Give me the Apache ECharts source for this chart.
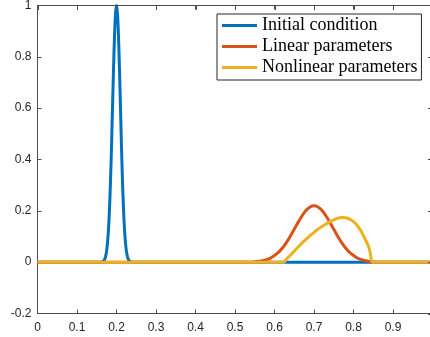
<!DOCTYPE html>
<html><head><meta charset="utf-8">
<script src="https://cdn.jsdelivr.net/npm/echarts@6/dist/echarts.min.js"></script>
<style>html,body{margin:0;padding:0;background:#fff}#c{width:430px;height:337px}</style>
</head><body><div id="c"></div>
<script>
const seriesNames = ['Initial condition', 'Linear parameters', 'Nonlinear parameters'];
const xTicks = [0, 0.1, 0.2, 0.3, 0.4, 0.5, 0.6, 0.7, 0.8, 0.9, 1];
const yTicks = [-0.2, 0, 0.2, 0.4, 0.6, 0.8, 1];

const initialX = [0, 0.16, 0.165, 0.1675, 0.17, 0.1725, 0.175, 0.1775, 0.18, 0.1825, 0.185, 0.1875, 0.19, 0.1925, 0.195, 0.1975, 0.2,
  0.2025, 0.205, 0.2075, 0.21, 0.2125, 0.215, 0.2175, 0.22, 0.2225, 0.225, 0.2275, 0.23, 0.2325, 0.235, 0.24, 1];
const initialY = [0, 0, 0.0022, 0.0051, 0.011, 0.0228, 0.044, 0.0796, 0.135, 0.216, 0.325, 0.458, 0.607, 0.755, 0.882, 0.969, 1,
  0.969, 0.882, 0.755, 0.607, 0.458, 0.325, 0.216, 0.135, 0.0796, 0.044, 0.0228, 0.011, 0.0051, 0.0022, 0, 0];

const linearX = [0, 0.54, 0.55, 0.56, 0.57, 0.58, 0.59, 0.60, 0.61, 0.62, 0.63, 0.64, 0.65, 0.66, 0.67, 0.68, 0.69, 0.70,
  0.71, 0.72, 0.73, 0.74, 0.75, 0.76, 0.77, 0.78, 0.79, 0.80, 0.81, 0.82, 0.83, 0.84, 0.85, 0.86, 1];
const linearY = [0, 0, 0.0015, 0.003, 0.0056, 0.0097, 0.016, 0.026, 0.038, 0.055, 0.076, 0.101, 0.128, 0.156, 0.181, 0.202, 0.215, 0.22,
  0.215, 0.202, 0.181, 0.156, 0.128, 0.101, 0.076, 0.055, 0.038, 0.026, 0.016, 0.0097, 0.0056, 0.003, 0.0015, 0, 0];

const nonlinearX = [0, 0.6235, 0.63, 0.64, 0.65, 0.66, 0.67, 0.68, 0.69, 0.70, 0.71, 0.72, 0.73, 0.74, 0.75, 0.76, 0.77,
  0.78, 0.79, 0.80, 0.81, 0.82, 0.83, 0.838, 0.843, 0.848, 1];
const nonlinearY = [0, 0, 0.011, 0.027, 0.043, 0.059, 0.075, 0.089, 0.103, 0.116, 0.128, 0.139, 0.148, 0.157, 0.165, 0.171, 0.174,
  0.173, 0.168, 0.158, 0.142, 0.119, 0.088, 0.062, 0.032, 0, 0];

const colors = ['#0072BD', '#D95319', '#EDB120'];
const zip = (xs, ys) => xs.map((x, i) => [x, ys[i]]);

const axisCol = '#262626';
const lineCol = '#4d4d4d';
const tickFont = { color: axisCol, fontSize: 12, fontFamily: 'Liberation Sans, Arial, sans-serif' };

const chart = echarts.init(document.getElementById('c'), null, { renderer: 'canvas' });
const baseX = () => ({
  type: 'value', min: 0, max: 1, interval: 0.1, gridIndex: 0,
  axisLine: { show: true, onZero: false, lineStyle: { color: lineCol, width: 1 } },
  axisTick: { show: true, inside: true, length: 4, lineStyle: { color: lineCol } },
  splitLine: { show: false }
});
const baseY = () => ({
  type: 'value', min: -0.2, max: 1, interval: 0.2, gridIndex: 0,
  axisLine: { show: true, onZero: false, lineStyle: { color: lineCol, width: 1 } },
  axisTick: { show: true, inside: true, length: 4, lineStyle: { color: lineCol } },
  splitLine: { show: false }
});
const fmt = v => { const r = Math.round(v * 10) / 10; return String(r); };

const G = { left: 37.5, top: 5.5, right: -2.5, bottom: 23.5 };

chart.setOption({
  animation: false,
  grid: { show: true, borderColor: lineCol, borderWidth: 1,
    left: G.left, top: G.top, right: G.right, bottom: G.bottom, outerBoundsMode: 'none' },
  xAxis: [
    Object.assign(baseX(), { position: 'bottom', axisLabel: Object.assign({ margin: 8, formatter: fmt }, tickFont) }),
    Object.assign(baseX(), { position: 'top', axisLabel: { show: false } })
  ],
  yAxis: [
    Object.assign(baseY(), { position: 'left', axisLabel: Object.assign({ margin: 6, formatter: fmt }, tickFont) }),
    Object.assign(baseY(), { position: 'right', axisLabel: { show: false } })
  ],
  legend: {
    orient: 'vertical', left: 217, top: 14,
    data: seriesNames,
    icon: 'rect', itemWidth: 35, itemHeight: 3, itemGap: 0,
    padding: [1, 4, 2, 5],
    backgroundColor: '#fff', borderColor: axisCol, borderWidth: 1, borderRadius: 0,
    textStyle: { fontFamily: 'Liberation Serif, Times New Roman, serif', fontSize: 18, color: '#000', lineHeight: 21 }
  },
  series: [
    { name: seriesNames[0], type: 'line', data: zip(initialX, initialY), showSymbol: false, smooth: 0.3, lineStyle: { color: colors[0], width: 3 }, itemStyle: { color: colors[0] } },
    { name: seriesNames[1], type: 'line', data: zip(linearX, linearY), showSymbol: false, smooth: 0.3, lineStyle: { color: colors[1], width: 3 }, itemStyle: { color: colors[1] } },
    { name: seriesNames[2], type: 'line', data: zip(nonlinearX, nonlinearY), showSymbol: false, smooth: 0.2, lineStyle: { color: colors[2], width: 3 }, itemStyle: { color: colors[2] } }
  ]
});

// Box frame (top edge, right edge) with inward ticks, placed through the chart's own scales.
let toPx;
try {
  const probe = chart.convertToPixel({ xAxisIndex: 0, yAxisIndex: 0 }, [0, 1]);
  if (!probe || isNaN(probe[0])) throw new Error('no px');
  toPx = p => chart.convertToPixel({ xAxisIndex: 0, yAxisIndex: 0 }, p);
} catch (e) {
  const W = chart.getWidth(), H = chart.getHeight();
  const gw = W - G.left - G.right, gh = H - G.top - G.bottom;
  toPx = p => [G.left + (p[0] - 0) / (1 - 0) * gw, G.top + (1 - p[1]) / (1 - (-0.2)) * gh];
}
const tl = toPx([0, 1]);
const br = toPx([1, -0.2]);
const topRow = Math.floor(tl[1]);
const rightX = br[0];
const els = [];
// filled 1px rectangles rather than strokes
const rect = (x, y, w, h) => ({ type: 'rect', shape: { x, y, width: w, height: h }, style: { fill: lineCol }, z: 1000, zlevel: 1, silent: true });
els.push(rect(Math.floor(tl[0]), topRow, rightX - Math.floor(tl[0]) + 1, 1));
els.push(rect(Math.floor(rightX), topRow, 1, br[1] - topRow));
xTicks.forEach(t => {
  const px = Math.round(toPx([t, 1])[0]);
  els.push(rect(px, topRow, 1, 5));
});
yTicks.forEach(t => {
  const py = Math.round(toPx([1, t])[1]);
  els.push(rect(Math.floor(rightX) - 4, py, 5, 1));
});
chart.setOption({ graphic: { elements: els } });
</script></body></html>
